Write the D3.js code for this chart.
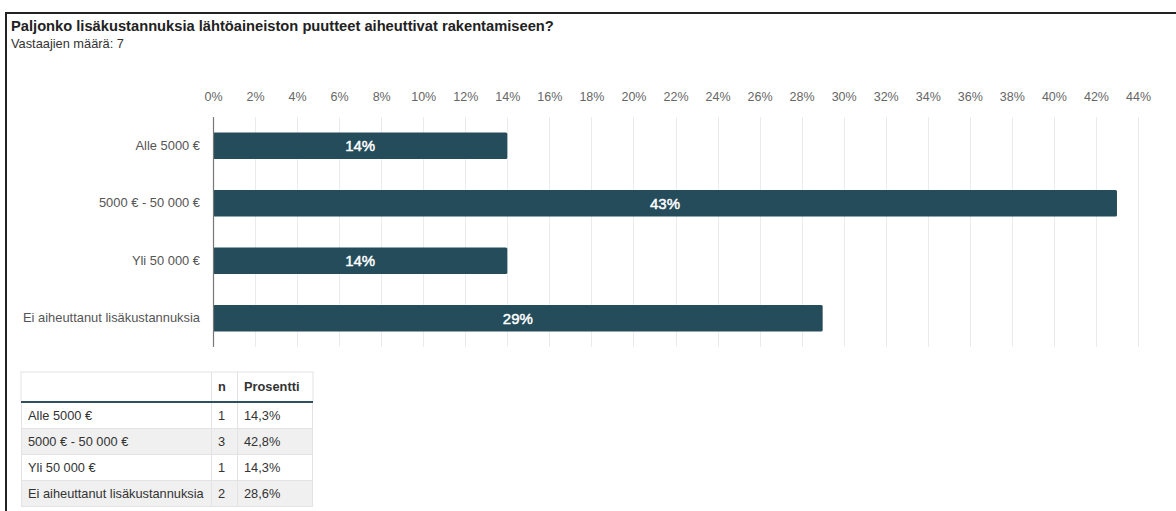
<!DOCTYPE html>
<html>
<head>
<meta charset="utf-8">
<script src="https://cdn.jsdelivr.net/npm/d3@7"></script>
<style>
  html, body { margin: 0; padding: 0; background: #fff; }
  svg { display: block; font-family: "Liberation Sans", Arial, sans-serif; }
</style>
</head>
<body>
<svg id="chart" width="1176" height="511"></svg>
<script>
const title = "Paljonko lisäkustannuksia lähtöaineiston puutteet aiheuttivat rakentamiseen?";
const subtitle = "Vastaajien määrä: 7";
const categories = ["Alle 5000 €", "5000 € - 50 000 €", "Yli 50 000 €", "Ei aiheuttanut lisäkustannuksia"];
const counts = [1, 3, 1, 2];
const barValues = [14, 43, 14, 29];
const percentLabels = ["14,3%", "42,8%", "14,3%", "28,6%"];
const xTicks = d3.range(0, 46, 2);
const tableHeader = ["", "n", "Prosentti"];

const svg = d3.select("#chart");
const barColor = "#244c5a";

// frame
svg.append("line").attr("x1", 5).attr("x2", 1176).attr("y1", 13).attr("y2", 13)
  .attr("stroke", "#222").attr("stroke-width", 2);
svg.append("line").attr("x1", 6).attr("x2", 6).attr("y1", 12).attr("y2", 511)
  .attr("stroke", "#222").attr("stroke-width", 2);

svg.append("text").attr("x", 11).attr("y", 31).text(title)
  .attr("font-size", 14.7).attr("font-weight", "bold").attr("fill", "#222");
svg.append("text").attr("x", 11).attr("y", 48).text(subtitle)
  .attr("font-size", 12.8).attr("fill", "#333");

const x = d3.scaleLinear().domain([0, 44]).range([213, 1138]);
const y = d3.scaleBand().domain(categories).range([117, 347]).paddingInner(0.54).paddingOuter(0.27);

// gridlines
svg.append("g").selectAll("line").data(xTicks.filter(d => d > 0)).join("line")
  .attr("x1", d => Math.round(x(d)) + 0.5).attr("x2", d => Math.round(x(d)) + 0.5)
  .attr("y1", 117).attr("y2", 347).attr("stroke", "#ebebeb").attr("stroke-width", 1);

// top axis labels
const xAxis = d3.axisTop(x).tickValues(xTicks).tickFormat(d => d + "%").tickSize(0).tickPadding(0);
const gx = svg.append("g").attr("transform", "translate(0,101)").call(xAxis);
gx.select(".domain").remove();
gx.selectAll("text").attr("font-size", 12.5).attr("fill", "#666").attr("font-family", "Liberation Sans, Arial, sans-serif");

// bars
svg.append("g").selectAll("rect").data(categories).join("rect")
  .attr("x", x(0)).attr("y", d => y(d))
  .attr("width", (d, i) => x(barValues[i]) - x(0))
  .attr("height", y.bandwidth())
  .attr("rx", 1.5)
  .attr("fill", barColor);

svg.append("g").selectAll("text").data(categories).join("text")
  .attr("x", (d, i) => (x(0) + x(barValues[i])) / 2)
  .attr("y", d => y(d) + y.bandwidth() / 2 + 5.5)
  .attr("text-anchor", "middle").attr("font-size", 15)
  .attr("fill", "#fff").attr("stroke", "#fff").attr("stroke-width", 0.45)
  .text((d, i) => barValues[i] + "%");

// y axis
const yAxis = d3.axisLeft(y).tickSize(0).tickPadding(13);
const gy = svg.append("g").attr("transform", "translate(213,0)").call(yAxis);
gy.select(".domain").remove();
gy.selectAll("text").attr("font-size", 12.9).attr("fill", "#555").attr("font-family", "Liberation Sans, Arial, sans-serif");
svg.append("line").attr("x1", 213.5).attr("x2", 213.5).attr("y1", 117).attr("y2", 347)
  .attr("stroke", "#777").attr("stroke-width", 1.2);

// table
const colX = [21, 211, 237, 313];
const headTop = 372, headBottom = 402, rowH = 26;
const tg = svg.append("g");
tg.append("rect").attr("x", colX[0]).attr("y", headTop).attr("width", colX[3] - colX[0]).attr("height", headBottom - headTop)
  .attr("fill", "#fff").attr("stroke", "#e3e3e3");
tg.selectAll("rect.row").data(categories).join("rect").attr("class", "row")
  .attr("x", colX[0] + 0.5).attr("y", (d, i) => headBottom + i * rowH + 0.5)
  .attr("width", colX[3] - colX[0] - 1).attr("height", rowH)
  .attr("fill", (d, i) => i % 2 ? "#f0f0f0" : "#fff").attr("stroke", "#e3e3e3");
tg.selectAll("line.col").data([colX[1], colX[2]]).join("line").attr("class", "col")
  .attr("x1", d => d + 0.5).attr("x2", d => d + 0.5)
  .attr("y1", headTop).attr("y2", headBottom + categories.length * rowH)
  .attr("stroke", "#e3e3e3");
tg.append("line").attr("x1", colX[0]).attr("x2", colX[3]).attr("y1", headBottom).attr("y2", headBottom)
  .attr("stroke", "#2f4f5c").attr("stroke-width", 2);
tg.selectAll("text.head").data(tableHeader).join("text").attr("class", "head")
  .attr("x", (d, i) => colX[i] + 7).attr("y", headTop + 19)
  .attr("font-size", 12.8).attr("font-weight", "bold").attr("fill", "#333").text(d => d);
categories.forEach((c, i) => {
  const cy = headBottom + i * rowH + 17.5;
  const vals = [c, String(counts[i]), percentLabels[i]];
  tg.selectAll(null).data(vals).join("text")
    .attr("x", (d, j) => colX[j] + 7).attr("y", cy)
    .attr("font-size", 12.8).attr("fill", "#333").text(d => d);
});
</script>
</body>
</html>
